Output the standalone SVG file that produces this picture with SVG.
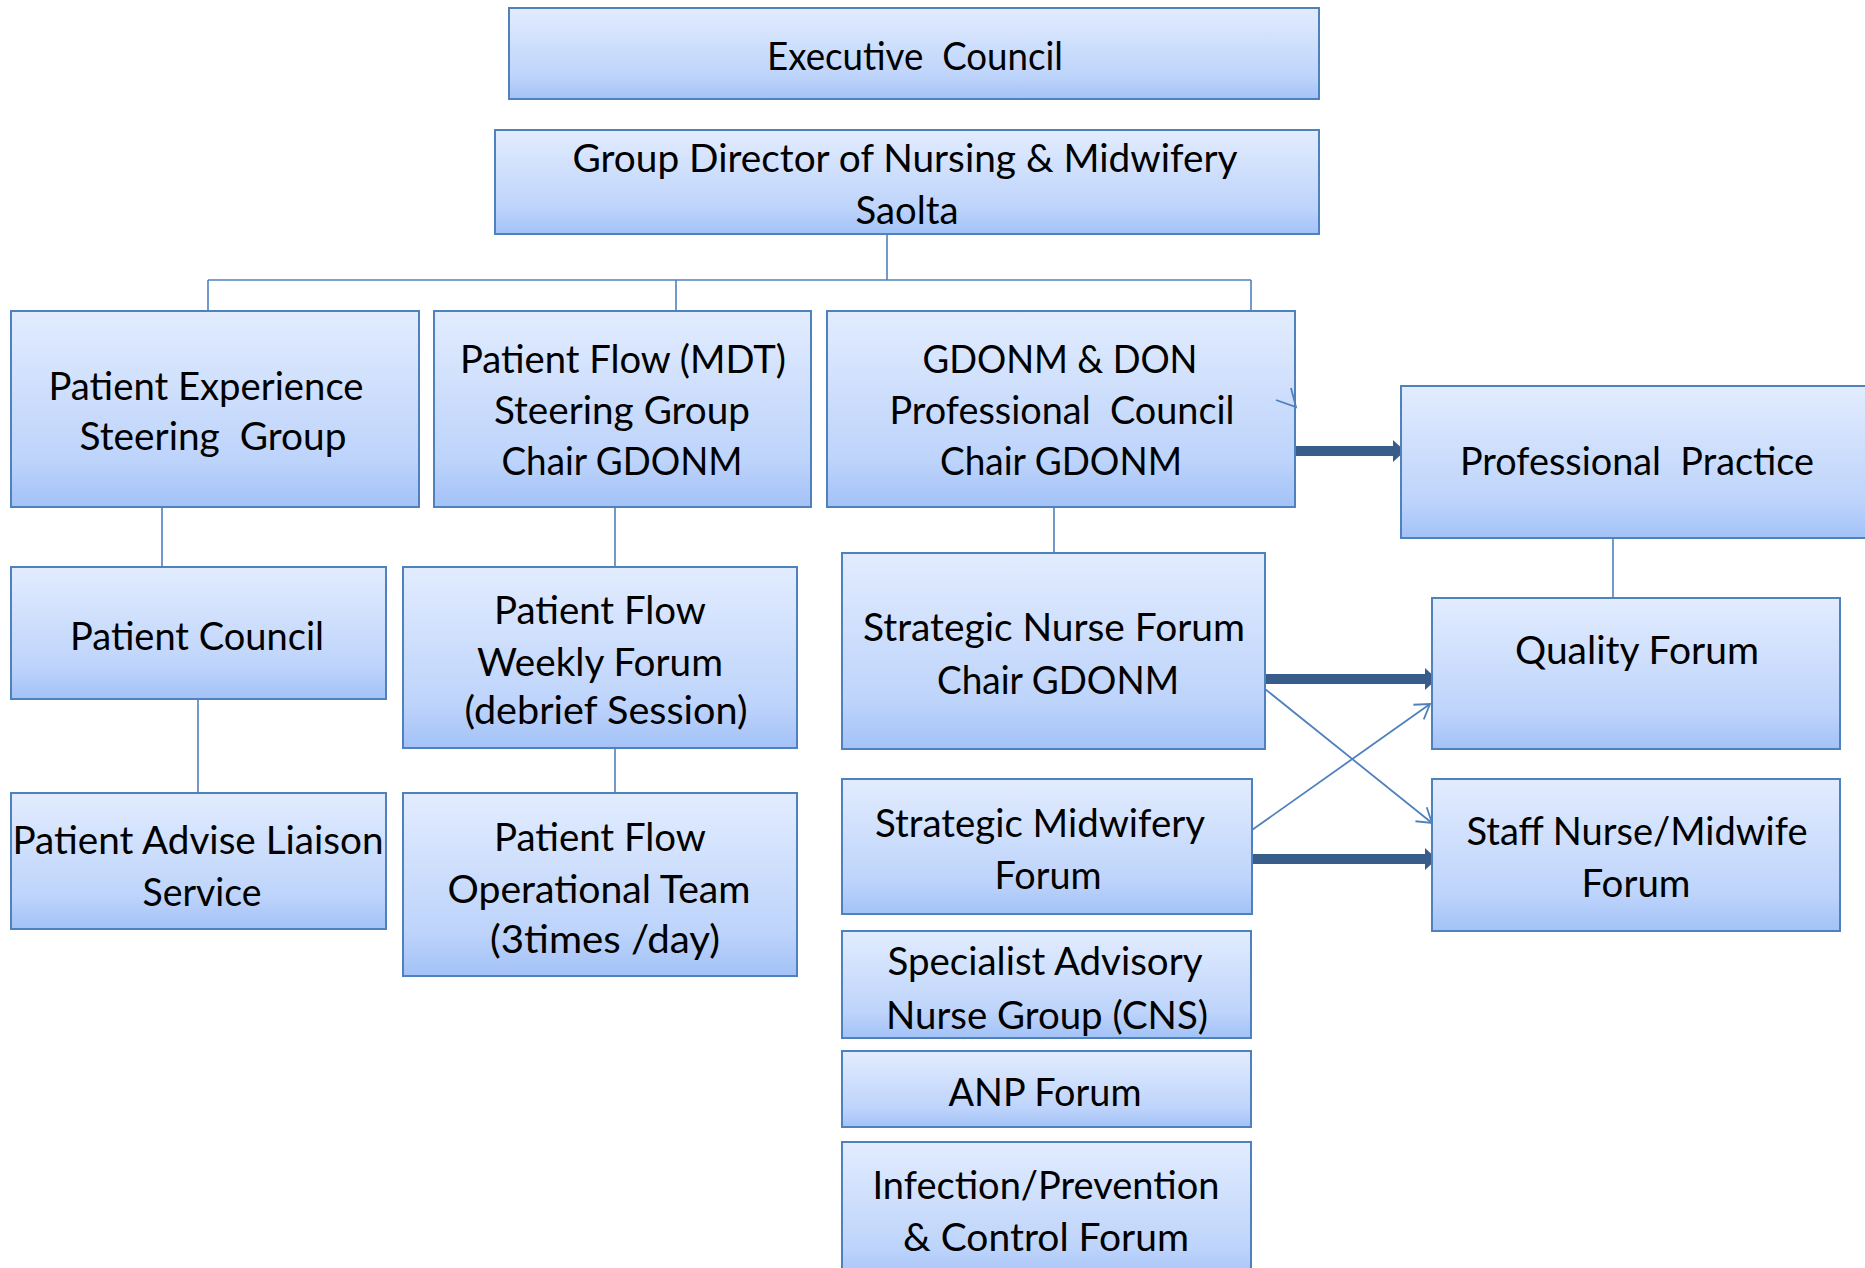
<svg xmlns="http://www.w3.org/2000/svg" width="1865" height="1268" viewBox="0 0 1865 1268">
<style>
.box{stroke:#4F81BD;stroke-width:2;fill:url(#g)}
.t{font-family:Lato,"Liberation Sans",sans-serif;font-size:38px;fill:#000;text-anchor:middle;white-space:pre}
.c{stroke:#4F81BD;stroke-width:1.6;fill:none}
.thick{stroke:#385D8A;stroke-width:10;fill:none}
.thin{stroke:#4F81BD;stroke-width:1.8;fill:none}
</style>
<defs>
<linearGradient id="g" x1="0" y1="0" x2="0" y2="1">
<stop offset="0" stop-color="#E2ECFE"/>
<stop offset="0.75" stop-color="#BED4FB"/>
<stop offset="1" stop-color="#A3C2F7"/>
</linearGradient>
<marker id="ah" markerUnits="userSpaceOnUse" markerWidth="14" markerHeight="24" refX="0" refY="11" orient="auto">
<path d="M0,0 L12,11 L0,22 Z" fill="#385D8A"/>
</marker>
<marker id="ov" markerUnits="userSpaceOnUse" markerWidth="20" markerHeight="24" refX="16" refY="10" orient="auto">
<path d="M2,1 L16,10 L2,19" fill="none" stroke="#4F81BD" stroke-width="1.8"/>
</marker>
</defs>
<rect width="1865" height="1268" fill="#fff"/>

<g id="connectors">
<path class="c" d="M887 234 V280 M208 280 H1251 M208 280 V311 M676 280 V311 M1251 280 V311"/>
<path class="c" d="M162 507 V567 M198 699 V793 M615 507 V567 M615 748 V793 M1054 507 V553 M1613 522 V598"/>
<line class="thick" x1="1295" y1="451" x2="1393" y2="451" marker-end="url(#ah)"/>
<line class="thick" x1="1265" y1="679" x2="1425" y2="679" marker-end="url(#ah)"/>
<line class="thick" x1="1251" y1="859" x2="1425" y2="859" marker-end="url(#ah)"/>
<line class="thin" x1="1265" y1="689" x2="1432" y2="823" marker-end="url(#ov)"/>
<line class="thin" x1="1252" y1="830" x2="1430" y2="704" marker-end="url(#ov)"/>
</g>

<g id="executive-council">
<rect class="box" x="509" y="8" width="810" height="91"/>
<text class="t" x="915" y="70" textLength="296" lengthAdjust="spacingAndGlyphs">Executive  Council</text>
</g>
<g id="group-director">
<rect class="box" x="495" y="130" width="824" height="104"/>
<text class="t" x="905" y="172" textLength="665" lengthAdjust="spacingAndGlyphs">Group Director of Nursing &amp; Midwifery</text>
<text class="t" x="907" y="224" textLength="103" lengthAdjust="spacingAndGlyphs">Saolta</text>
</g>
<g id="patient-experience">
<rect class="box" x="11" y="311" width="408" height="196"/>
<text class="t" x="206" y="400" textLength="315" lengthAdjust="spacingAndGlyphs">Patient Experience</text>
<text class="t" x="213" y="450" textLength="267" lengthAdjust="spacingAndGlyphs">Steering  Group</text>
</g>
<g id="patient-flow-mdt">
<rect class="box" x="434" y="311" width="377" height="196"/>
<text class="t" x="623" y="373" textLength="326" lengthAdjust="spacingAndGlyphs">Patient Flow (MDT)</text>
<text class="t" x="622" y="424" textLength="256" lengthAdjust="spacingAndGlyphs">Steering Group</text>
<text class="t" x="622" y="475" textLength="241" lengthAdjust="spacingAndGlyphs">Chair GDONM</text>
</g>
<g id="gdonm-don">
<rect class="box" x="827" y="311" width="468" height="196"/>
<text class="t" x="1060" y="373" textLength="275" lengthAdjust="spacingAndGlyphs">GDONM &amp; DON</text>
<text class="t" x="1062" y="424" textLength="345" lengthAdjust="spacingAndGlyphs">Professional  Council</text>
<text class="t" x="1061" y="475" textLength="242" lengthAdjust="spacingAndGlyphs">Chair GDONM</text>
<path class="thin" d="M1276 400 L1296 407 L1291 388"/>
</g>
<g id="professional-practice">
<rect class="box" x="1401" y="386" width="475" height="152"/>
<text class="t" x="1637" y="475" textLength="354" lengthAdjust="spacingAndGlyphs">Professional  Practice</text>
</g>
<g id="patient-council">
<rect class="box" x="11" y="567" width="375" height="132"/>
<text class="t" x="197" y="650" textLength="254" lengthAdjust="spacingAndGlyphs">Patient Council</text>
</g>
<g id="patient-flow-weekly">
<rect class="box" x="403" y="567" width="394" height="181"/>
<text class="t" x="600" y="624" textLength="212" lengthAdjust="spacingAndGlyphs">Patient Flow</text>
<text class="t" x="600" y="676" textLength="246" lengthAdjust="spacingAndGlyphs">Weekly Forum</text>
<text class="t" x="606" y="724" textLength="283" lengthAdjust="spacingAndGlyphs">(debrief Session)</text>
</g>
<g id="strategic-nurse-forum">
<rect class="box" x="842" y="553" width="423" height="196"/>
<text class="t" x="1054" y="641" textLength="382" lengthAdjust="spacingAndGlyphs">Strategic Nurse Forum</text>
<text class="t" x="1058" y="694" textLength="242" lengthAdjust="spacingAndGlyphs">Chair GDONM</text>
</g>
<g id="quality-forum">
<rect class="box" x="1432" y="598" width="408" height="151"/>
<text class="t" x="1637" y="664" textLength="244" lengthAdjust="spacingAndGlyphs">Quality Forum</text>
</g>
<g id="patient-advise-liaison">
<rect class="box" x="11" y="793" width="375" height="136"/>
<text class="t" x="198" y="854" textLength="371" lengthAdjust="spacingAndGlyphs">Patient Advise Liaison</text>
<text class="t" x="202" y="906" textLength="119" lengthAdjust="spacingAndGlyphs">Service</text>
</g>
<g id="patient-flow-operational">
<rect class="box" x="403" y="793" width="394" height="183"/>
<text class="t" x="600" y="851" textLength="212" lengthAdjust="spacingAndGlyphs">Patient Flow</text>
<text class="t" x="599" y="903" textLength="303" lengthAdjust="spacingAndGlyphs">Operational Team</text>
<text class="t" x="605" y="953" textLength="230" lengthAdjust="spacingAndGlyphs">(3times /day)</text>
</g>
<g id="strategic-midwifery-forum">
<rect class="box" x="842" y="779" width="410" height="135"/>
<text class="t" x="1040" y="837" textLength="330" lengthAdjust="spacingAndGlyphs">Strategic Midwifery</text>
<text class="t" x="1048" y="889" textLength="107" lengthAdjust="spacingAndGlyphs">Forum</text>
</g>
<g id="staff-nurse-midwife-forum">
<rect class="box" x="1432" y="779" width="408" height="152"/>
<text class="t" x="1637" y="845" textLength="341" lengthAdjust="spacingAndGlyphs">Staff Nurse/Midwife</text>
<text class="t" x="1636" y="897" textLength="109" lengthAdjust="spacingAndGlyphs">Forum</text>
</g>
<g id="specialist-advisory">
<rect class="box" x="842" y="931" width="409" height="107"/>
<text class="t" x="1045" y="975" textLength="315" lengthAdjust="spacingAndGlyphs">Specialist Advisory</text>
<text class="t" x="1047" y="1029" textLength="322" lengthAdjust="spacingAndGlyphs">Nurse Group (CNS)</text>
</g>
<g id="anp-forum">
<rect class="box" x="842" y="1051" width="409" height="76"/>
<text class="t" x="1045" y="1106" textLength="193" lengthAdjust="spacingAndGlyphs">ANP Forum</text>
</g>
<g id="infection-prevention">
<rect class="box" x="842" y="1142" width="409" height="140"/>
<text class="t" x="1046" y="1199" textLength="347" lengthAdjust="spacingAndGlyphs">Infection/Prevention</text>
<text class="t" x="1046" y="1251" textLength="286" lengthAdjust="spacingAndGlyphs">&amp; Control Forum</text>
</g>
</svg>
